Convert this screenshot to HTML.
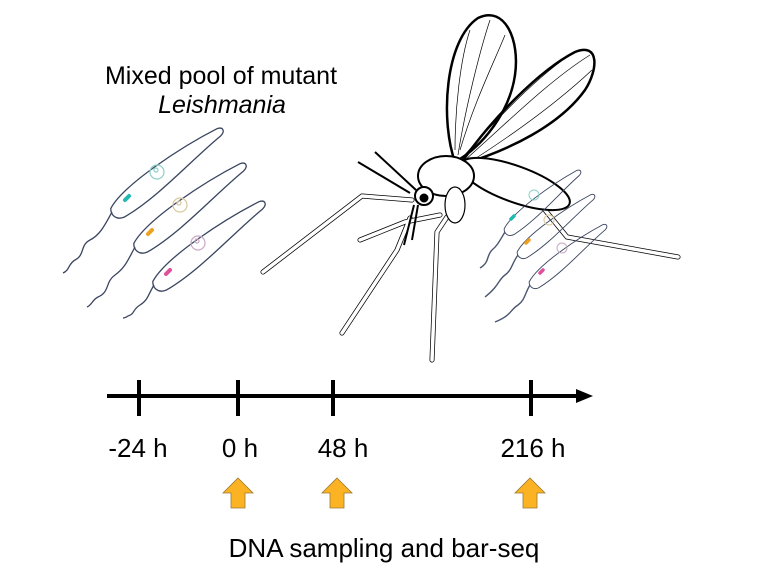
<!DOCTYPE html>
<html><head><style>
html,body{margin:0;padding:0;background:#fff;}
svg{display:block;}
text{font-family:"Liberation Sans",Arial,sans-serif;fill:#000;}
</style></head><body>
<svg width="768" height="576" viewBox="0 0 768 576" xmlns="http://www.w3.org/2000/svg">
<defs>
  <g id="para">
    <path d="M0,-2 C25,-14 95,-10 133,-4 C139,-2 138,3 131,4 C95,6 45,17 6,13 C-3,11 -4,3 0,-2 Z" fill="none" stroke="#3a4560" stroke-width="1.3"/>
  </g>
</defs>
<text x="221" y="84" font-size="25" text-anchor="middle">Mixed pool of mutant</text>
<text x="222" y="113" font-size="25" text-anchor="middle" font-style="italic">Leishmania</text>

<!-- left parasites -->
<g stroke="#3a4560" stroke-width="1.3" fill="none">
  <g transform="translate(112,210) rotate(-36)"><use href="#para"/></g>
  <path d="M112,212 C105,225 100,235 90,240 C80,245 85,255 75,260 C68,264 70,270 63,273"/>
  <g transform="translate(135,245) rotate(-36)"><use href="#para"/></g>
  <path d="M135,247 C128,260 125,268 115,275 C105,282 110,292 98,297 C92,300 92,305 87,307"/>
  <g transform="translate(154,283) rotate(-36)"><use href="#para"/></g>
  <path d="M154,285 C148,295 148,300 140,305 C132,310 135,314 128,316 C125,318 124,318 123,318"/>
</g>
<g fill="none" stroke-width="1.2">
  <circle cx="157" cy="172" r="7" stroke="#8fcfca"/><circle cx="156" cy="170" r="2" stroke="#8fcfca"/>
  <circle cx="180" cy="205" r="7" stroke="#d8c89a"/><circle cx="179" cy="203" r="2" stroke="#d8c89a"/>
  <circle cx="198" cy="243" r="7" stroke="#c9a9c4"/><circle cx="197" cy="241" r="2" stroke="#c9a9c4"/>
</g>
<g stroke-linecap="round" stroke-width="4">
  <line x1="125" y1="200" x2="129" y2="196" stroke="#20b8b0"/>
  <line x1="148" y1="234" x2="152" y2="230" stroke="#f0a020"/>
  <line x1="166" y1="274" x2="170" y2="270" stroke="#e0509a"/>
</g>

<!-- mosquito wings -->
<g fill="none" stroke="#000">
  <path d="M455,162 C440,120 445,40 478,18 C505,5 520,40 515,75 C510,110 485,145 455,162 Z" stroke-width="2.5"/>
  <path d="M460,165 C490,120 540,70 575,52 C600,42 598,70 585,90 C560,125 510,150 460,165 Z" stroke-width="2.5"/>
  <g stroke-width="0.7">
    <path d="M458,155 C465,110 480,50 490,20"/><path d="M460,150 C475,100 495,60 505,35"/>
    <path d="M455,150 C455,110 460,60 470,30"/>
    <path d="M465,160 C510,120 550,80 590,55"/><path d="M470,162 C520,130 560,100 592,70"/>
    <path d="M462,158 C500,115 540,75 570,55"/>
  </g>
</g>
<!-- legs: outlined tubes -->
<g fill="none" stroke-linecap="round" stroke-linejoin="round">
  <g stroke="#000" stroke-width="5">
    <polyline points="412,200 362,196 263,272"/>
    <polyline points="410,218 397,250 342,333"/>
    <polyline points="447,217 437,232 432,360"/>
    <polyline points="523,183 567,237 678,257"/>
    <polyline points="440,215 405,222 360,240"/>
  </g>
  <g stroke="#fff" stroke-width="3.5">
    <polyline points="412,200 362,196 263,272"/>
    <polyline points="410,218 397,250 342,333"/>
    <polyline points="447,217 437,232 432,360"/>
    <polyline points="523,183 567,237 678,257"/>
    <polyline points="440,215 405,222 360,240"/>
  </g>
</g>
<!-- body -->
<g stroke="#000" fill="#fff">
  <ellipse cx="515" cy="184" rx="58" ry="18" transform="rotate(20 515 184)" stroke-width="2"/>
  <ellipse cx="446" cy="176" rx="28" ry="20" stroke-width="2"/>
  <ellipse cx="455" cy="205" rx="10" ry="18" stroke-width="1.2"/>
  <circle cx="424" cy="196" r="9" stroke-width="2"/>
  <circle cx="424" cy="198" r="4" fill="#000"/>
</g>
<g stroke="#000" fill="none" stroke-width="2">
  <path d="M410,193 L358,162"/><path d="M416,190 L375,152"/>
  <path d="M414,205 L404,245"/><path d="M418,205 L412,240"/>
</g>
<!-- small parasites near mosquito -->
<g stroke="#4a5570" stroke-width="1.4" fill="none">
  <g transform="translate(505,230) rotate(-38) scale(0.7)"><use href="#para"/></g>
  <path d="M505,232 C500,240 498,245 492,250 C486,256 490,262 480,268"/>
  <g transform="translate(518,253) rotate(-37) scale(0.7)"><use href="#para"/></g>
  <path d="M518,255 C512,263 512,270 505,275 C498,280 500,285 485,297"/>
  <g transform="translate(530,283) rotate(-37) scale(0.7)"><use href="#para"/></g>
  <path d="M530,285 C525,293 525,300 518,305 C510,310 512,315 495,322"/>
</g>
<g fill="none" stroke-width="1">
  <circle cx="534" cy="195" r="5" stroke="#8fcfca"/>
  <circle cx="549" cy="220" r="5" stroke="#d8c89a"/>
  <circle cx="562" cy="248" r="5" stroke="#c9a9c4"/>
</g>
<g stroke-linecap="round" stroke-width="3.5">
  <line x1="511" y1="219" x2="514" y2="216" stroke="#20b8b0"/>
  <line x1="526" y1="243" x2="529" y2="240" stroke="#f0a020"/>
  <line x1="540" y1="273" x2="543" y2="270" stroke="#e0509a"/>
</g>

<!-- timeline -->
<line x1="107" y1="396" x2="580" y2="396" stroke="#000" stroke-width="4"/>
<polygon points="576,389 593,396 576,403" fill="#000"/>
<g stroke="#000" stroke-width="4">
  <line x1="139" y1="380" x2="139" y2="416"/>
  <line x1="238" y1="380" x2="238" y2="416"/>
  <line x1="333" y1="380" x2="333" y2="416"/>
  <line x1="531" y1="380" x2="531" y2="416"/>
</g>
<g font-size="26" text-anchor="middle">
  <text x="138" y="457">-24 h</text>
  <text x="240" y="457">0 h</text>
  <text x="343" y="457">48 h</text>
  <text x="533" y="457">216 h</text>
</g>
<g fill="#fbb323" stroke="#9a7a30" stroke-width="0.8">
  <polygon points="238,478 253,493 245,493 245,508 231,508 231,493 223,493"/>
  <polygon points="337,478 352,493 344,493 344,508 330,508 330,493 322,493"/>
  <polygon points="530,478 545,493 537,493 537,508 523,508 523,493 515,493"/>
</g>
<text x="384" y="557" font-size="26" text-anchor="middle">DNA sampling and bar-seq</text>
</svg>
</body></html>
